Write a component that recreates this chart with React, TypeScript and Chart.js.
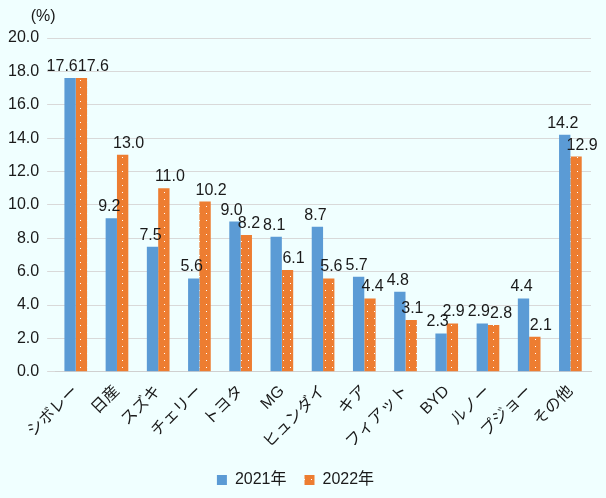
import React, { useEffect, useRef } from "react";
import { Chart, registerables } from "chart.js";

Chart.register(...registerables);

const categories = ["シボレー", "日産", "スズキ", "チェリー", "トヨタ", "MG", "ヒュンダイ", "キア", "フィアット", "BYD", "ルノー", "プジョー", "その他"];
const series2021 = [17.6, 9.2, 7.5, 5.6, 9.0, 8.1, 8.7, 5.7, 4.8, 2.3, 2.9, 4.4, 14.2];
const series2022 = [17.6, 13.0, 11.0, 10.2, 8.2, 6.1, 5.6, 4.4, 3.1, 2.9, 2.8, 2.1, 12.9];
const seriesNames = ["2021年", "2022年"];

const FONT = "'Liberation Sans', 'Noto Sans CJK JP', sans-serif";
const TEXT = "#1a1a1a";
const FS = 16;

function makePattern(): CanvasPattern | string {
  const c = document.createElement("canvas");
  c.width = 7;
  c.height = 7;
  const ctx = c.getContext("2d");
  if (!ctx) return "#ed7d31";
  ctx.fillStyle = "#ed7d31";
  ctx.fillRect(0, 0, 7, 7);
  ctx.fillStyle = "#ffffff";
  ctx.fillRect(3, 3, 1, 1);
  return ctx.createPattern(c, "repeat") || "#ed7d31";
}

const bgPlugin = {
  id: "bg",
  beforeDraw(chart: any) {
    const ctx = chart.ctx;
    ctx.save();
    ctx.fillStyle = "#f0ffff";
    ctx.fillRect(0, 0, chart.width, chart.height);
    ctx.restore();
  },
};

const labelsPlugin = {
  id: "valueLabels",
  afterDatasetsDraw(chart: any) {
    const ctx = chart.ctx;
    ctx.save();
    ctx.font = `${FS}px ${FONT}`;
    ctx.fillStyle = TEXT;
    ctx.textAlign = "center";
    ctx.textBaseline = "alphabetic";
    const m0 = chart.getDatasetMeta(0);
    const m1 = chart.getDatasetMeta(1);
    const d0 = chart.data.datasets[0].data as number[];
    const d1 = chart.data.datasets[1].data as number[];
    const gap = 7;
    const h = 12;
    type L = { t: string; x: number; y: number; w: number; bx: number };
    const l0: L[] = [];
    const l1: L[] = [];
    for (let i = 0; i < d0.length; i++) {
      const b0 = m0.data[i] as any;
      const b1 = m1.data[i] as any;
      const t0 = d0[i].toFixed(1);
      const t1 = d1[i].toFixed(1);
      l0.push({ t: t0, x: b0.x - 2, y: b0.y - gap, w: ctx.measureText(t0).width, bx: b0.x });
      l1.push({ t: t1, x: b1.x + 6, y: b1.y - gap, w: ctx.measureText(t1).width, bx: b1.x });
    }
    // within a category
    for (let i = 0; i < d0.length; i++) {
      const a = l0[i];
      const b = l1[i];
      if (Math.abs(a.y - b.y) < h + 2) {
        const overlap = a.x + a.w / 2 - (b.x - b.w / 2);
        if (overlap > 0) {
          a.x -= overlap / 2;
          b.x += overlap / 2;
        }
      }
    }
    // between neighbouring categories
    for (let i = 0; i < d0.length - 1; i++) {
      const b = l1[i];
      const n = l0[i + 1];
      if (Math.abs(b.y - n.y) < h + 2) {
        let overlap = b.x + b.w / 2 + 3 - (n.x - n.w / 2);
        if (overlap > 0) {
          const s = Math.min(overlap, Math.max(0, b.x - b.bx + 2));
          b.x -= s;
          overlap -= s;
          if (overlap > 0) n.x += overlap;
        }
      }
    }
    [...l0, ...l1].forEach((l) => ctx.fillText(l.t, l.x, l.y));
    const area = chart.chartArea;
    ctx.textAlign = "center";
    ctx.textBaseline = "middle";
    ctx.fillText("(%)", area.left - 12, area.top - 21);
    ctx.restore();
  },
};

export default function App() {
  const ref = useRef<HTMLCanvasElement>(null);
  useEffect(() => {
    document.body.style.margin = "0";
    if (!ref.current) return;
    const chart = new Chart(ref.current, {
      type: "bar",
      data: {
        labels: categories,
        datasets: [
          { label: seriesNames[0], data: series2021, backgroundColor: "#5b9bd5", borderWidth: 0 },
          { label: seriesNames[1], data: series2022, backgroundColor: makePattern() as any, borderWidth: 0 },
        ],
      },
      options: {
        animation: false,
        responsive: false,
        maintainAspectRatio: false,
        layout: { padding: { top: 38, right: 15, left: 0, bottom: 0 } },
        datasets: { bar: { categoryPercentage: 0.55, barPercentage: 1 } },
        plugins: {
          legend: {
            position: "bottom",
            labels: { boxWidth: 10, boxHeight: 10, font: { size: FS, family: FONT }, color: TEXT, padding: 18 },
          },
          tooltip: { enabled: false },
        },
        scales: {
          x: {
            grid: { display: false },
            border: { color: "#d0d0d0" },
            ticks: { maxRotation: 45, minRotation: 45, font: { size: FS, family: FONT }, color: TEXT, padding: 2 },
          },
          y: {
            min: 0,
            max: 20,
            grid: { color: "#d9d9d9" },
            border: { display: false },
            ticks: {
              stepSize: 2,
              font: { size: FS, family: FONT },
              color: TEXT,
              padding: 8,
              callback: (v: any) => Number(v).toFixed(1),
            },
          },
        },
      },
      plugins: [bgPlugin, labelsPlugin],
    });
    return () => chart.destroy();
  }, []);
  return (
    <div style={{ width: 606, height: 498 }}>
      <canvas ref={ref} width={606} height={498} style={{ display: "block" }} />
    </div>
  );
}
